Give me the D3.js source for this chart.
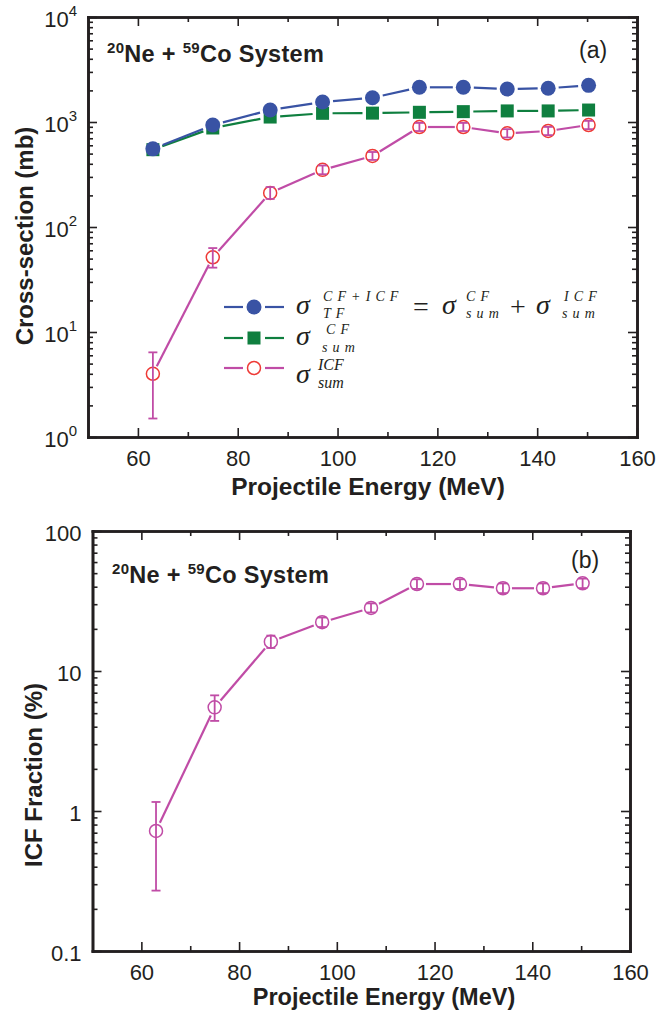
<!DOCTYPE html>
<html>
<head>
<meta charset="utf-8">
<script src="https://cdn.jsdelivr.net/npm/d3@7"></script>
<style>
body { margin: 0; background: #fff; }
svg { display: block; }
</style>
</head>
<body>
<script>
// data
var energy = [63, 75, 86.5, 97, 107, 116.4, 125.2, 134, 142.2, 150.3];
var sigmaTF = [555, 936, 1300, 1550, 1700, 2140, 2140, 2060, 2095, 2235];
var sigmaCF = [545, 877, 1115, 1210, 1215, 1237, 1255, 1275, 1275, 1300];
var sigmaICF = [4.0, 51.5, 211, 350, 475, 896, 896, 780, 821, 936];
var sigmaICFLo = [1.5, 41, 185, 318, 435, 820, 820, 712, 750, 855];
var sigmaICFHi = [6.4, 63, 240, 385, 518, 980, 980, 855, 898, 1025];
var icfFraction = [0.72, 5.5, 16.2, 22.3, 28.2, 41.8, 41.8, 39.0, 39.0, 42.3];
var icfFractionLo = [0.27, 4.4, 14.6, 20.6, 26.2, 38.6, 38.6, 36.0, 36.0, 39.1];
var icfFractionHi = [1.16, 6.7, 17.9, 24.1, 30.4, 45.2, 45.2, 42.2, 42.2, 45.7];

var xTicks = [60, 80, 100, 120, 140, 160];
var yTicksA = [1, 10, 100, 1000, 10000];
var yTicksB = [0.1, 1, 10, 100];
var yLabelsB = ["0.1", "1", "10", "100"];

var ink = "#231f20";
var blue = "#3953a4";
var green = "#0f7f3f";
var magenta = "#c04ca6";
var red = "#ee3a36";
var sans = "'Liberation Sans', Arial, Helvetica, sans-serif";
var serif = "'Liberation Serif', 'Times New Roman', serif";

var svg = d3.select("body").append("svg")
    .attr("width", 658)
    .attr("height", 1018);

svg.append("rect").attr("width", 658).attr("height", 1018).attr("fill", "#fff");

// panel scales
var xA = d3.scaleLinear().domain([50, 160]).range([88, 637]);
var yA = d3.scaleLog().domain([1, 10000]).range([437, 17]);
var xB = d3.scaleLinear().domain([50, 160]).range([92.5, 630]);
var yB = d3.scaleLog().domain([0.1, 100]).range([951, 531]);

function styleAxis(g) {
    g.select(".domain").attr("stroke", ink).attr("stroke-width", 2.6).attr("stroke-linecap", "square");
    g.selectAll(".tick line").attr("stroke", ink).attr("stroke-width", 1.6);
    g.selectAll(".tick text").attr("fill", ink).attr("font-family", sans).attr("font-size", 22);
}

function frame(g, x, y, yLabel) {
    var x0 = x.range()[0], x1 = x.range()[1];
    var y0 = y.range()[0], y1 = y.range()[1];
    var xMinor = x.ticks(11).filter(function(v) {
        return xTicks.indexOf(v) < 0 && v > x.domain()[0];
    });
    var yMajor = y === yA ? yTicksA : yTicksB;
    var yMinor = y.ticks().filter(function(v) {
        return yMajor.indexOf(v) < 0;
    });

    // minor ticks, all four sides
    g.append("g").attr("transform", "translate(0," + y0 + ")")
        .call(d3.axisBottom(x).tickValues(xMinor).tickSizeInner(-5).tickSizeOuter(0).tickFormat(""))
        .call(styleAxis);
    g.append("g").attr("transform", "translate(0," + y1 + ")")
        .call(d3.axisTop(x).tickValues(xMinor).tickSizeInner(-5).tickSizeOuter(0).tickFormat(""))
        .call(styleAxis);
    g.append("g").attr("transform", "translate(" + x0 + ",0)")
        .call(d3.axisLeft(y).tickValues(yMinor).tickSizeInner(-5).tickSizeOuter(0).tickFormat(""))
        .call(styleAxis);
    g.append("g").attr("transform", "translate(" + x1 + ",0)")
        .call(d3.axisRight(y).tickValues(yMinor).tickSizeInner(-5).tickSizeOuter(0).tickFormat(""))
        .call(styleAxis);

    // major ticks
    g.append("g").attr("transform", "translate(0," + y0 + ")")
        .call(d3.axisBottom(x).tickValues(xTicks).tickSizeInner(-9).tickSizeOuter(0).tickPadding(13))
        .call(styleAxis);
    g.append("g").attr("transform", "translate(0," + y1 + ")")
        .call(d3.axisTop(x).tickValues(xTicks).tickSizeInner(-9).tickSizeOuter(0).tickFormat(""))
        .call(styleAxis);
    g.append("g").attr("transform", "translate(" + x1 + ",0)")
        .call(d3.axisRight(y).tickValues(yMajor).tickSizeInner(-9).tickSizeOuter(0).tickFormat(""))
        .call(styleAxis);
    var left = g.append("g").attr("transform", "translate(" + x0 + ",0)")
        .call(d3.axisLeft(y).tickValues(yMajor).tickSizeInner(-9).tickSizeOuter(0).tickPadding(11))
        .call(styleAxis);
    left.selectAll(".tick text").attr("dy", "0.44em").each(yLabel);
}

function segments(xs, ys, gap) {
    var out = [];
    for (var i = 0; i < xs.length - 1; i++) {
        var dx = xs[i + 1] - xs[i], dy = ys[i + 1] - ys[i];
        var len = Math.sqrt(dx * dx + dy * dy);
        if (len <= 2 * gap) continue;
        var ux = dx / len, uy = dy / len;
        out.push([xs[i] + ux * gap, ys[i] + uy * gap, xs[i + 1] - ux * gap, ys[i + 1] - uy * gap]);
    }
    return out;
}

function drawLine(g, xs, ys, gap, color) {
    g.append("g").selectAll("line")
        .data(segments(xs, ys, gap))
        .enter().append("line")
        .attr("x1", function(d) { return d[0]; })
        .attr("y1", function(d) { return d[1]; })
        .attr("x2", function(d) { return d[2]; })
        .attr("y2", function(d) { return d[3]; })
        .attr("stroke", color)
        .attr("stroke-width", 2.2);
}

function errorBars(g, xs, lo, hi, y, color) {
    var eb = g.append("g").attr("stroke", color).attr("stroke-width", 1.8).attr("fill", "none");
    xs.forEach(function(xv, i) {
        eb.append("line").attr("x1", xv).attr("x2", xv).attr("y1", y(lo[i])).attr("y2", y(hi[i]));
        eb.append("line").attr("x1", xv - 4.5).attr("x2", xv + 4.5).attr("y1", y(lo[i])).attr("y2", y(lo[i]));
        eb.append("line").attr("x1", xv - 4.5).attr("x2", xv + 4.5).attr("y1", y(hi[i])).attr("y2", y(hi[i]));
    });
}

function systemTitle(g, x, y) {
    var t = g.append("text").attr("x", x).attr("y", y)
        .attr("font-family", sans).attr("font-weight", "bold").attr("font-size", 23.5)
        .attr("letter-spacing", 0.3).attr("fill", ink);
    t.append("tspan").attr("font-size", 15).attr("dy", -9).text("20");
    t.append("tspan").attr("dy", 9).text("Ne + ");
    t.append("tspan").attr("font-size", 15).attr("dy", -9).text("59");
    t.append("tspan").attr("dy", 9).text("Co System");
}

// ---------- panel (a)
var ga = svg.append("g");
frame(ga, xA, yA, function(d) {
    var t = d3.select(this).text(null);
    t.append("tspan").text("10");
    t.append("tspan").attr("dy", -11).attr("font-size", 15).text(Math.round(Math.log10(d)));
});

var pxA = energy.map(function(e) { return xA(e); });

// CF sum
drawLine(ga, pxA, sigmaCF.map(yA), 10, green);
ga.append("g").selectAll("rect")
    .data(sigmaCF)
    .enter().append("rect")
    .attr("x", function(d, i) { return pxA[i] - 6.5; })
    .attr("y", function(d) { return yA(d) - 6.5; })
    .attr("width", 13).attr("height", 13)
    .attr("fill", green);

// total fusion
drawLine(ga, pxA, sigmaTF.map(yA), 10.5, blue);
ga.append("g").selectAll("circle")
    .data(sigmaTF)
    .enter().append("circle")
    .attr("cx", function(d, i) { return pxA[i]; })
    .attr("cy", function(d) { return yA(d); })
    .attr("r", 7.5)
    .attr("fill", blue);

// ICF sum
drawLine(ga, pxA, sigmaICF.map(yA), 8.5, magenta);
ga.append("g").selectAll("circle")
    .data(sigmaICF)
    .enter().append("circle")
    .attr("cx", function(d, i) { return pxA[i]; })
    .attr("cy", function(d) { return yA(d); })
    .attr("r", 6.5)
    .attr("fill", "#fff")
    .attr("stroke", red)
    .attr("stroke-width", 1.5);
errorBars(ga, pxA, sigmaICFLo, sigmaICFHi, yA, magenta);

// legend
var lg = ga.append("g").attr("font-family", serif).attr("font-style", "italic").attr("fill", ink);
var rows = [307, 338, 368];
[blue, green, magenta].forEach(function(c, i) {
    lg.append("line").attr("x1", 224).attr("x2", 243).attr("y1", rows[i]).attr("y2", rows[i]).attr("stroke", c).attr("stroke-width", 2.2);
    lg.append("line").attr("x1", 265).attr("x2", 284).attr("y1", rows[i]).attr("y2", rows[i]).attr("stroke", c).attr("stroke-width", 2.2);
});
lg.append("circle").attr("cx", 254).attr("cy", rows[0]).attr("r", 7.5).attr("fill", blue);
lg.append("rect").attr("x", 247.5).attr("y", rows[1] - 6.5).attr("width", 13).attr("height", 13).attr("fill", green);
lg.append("circle").attr("cx", 254).attr("cy", rows[2]).attr("r", 6.5).attr("fill", "#fff").attr("stroke", red).attr("stroke-width", 1.5);

function sigma(x, y) {
    lg.append("text").attr("x", x).attr("y", y).attr("font-size", 28).text("σ");
}
function small(x, y, s, size, spacing) {
    lg.append("text").attr("x", x).attr("y", y).attr("font-size", size || 14)
        .attr("letter-spacing", spacing === undefined ? 0.8 : spacing).text(s);
}
sigma(296, 314);
small(323, 301, "C F + I C F");
small(323, 318, "T F");
lg.append("text").attr("x", 413).attr("y", 316).attr("font-size", 28).attr("font-style", "normal").text("=");
sigma(442, 314);
small(466, 301, "C F");
small(466, 318, "s u m");
lg.append("text").attr("x", 510).attr("y", 316).attr("font-size", 28).attr("font-style", "normal").text("+");
sigma(536, 314);
small(564, 301, "I C F");
small(562, 318, "s u m");
sigma(296, 345);
small(326, 334, "C F");
small(322, 352, "s u m");
sigma(296, 383);
small(318, 370, "ICF", 16, 0);
small(318, 388, "sum", 16, 0);

// titles
systemTitle(ga, 107, 62);
ga.append("text").attr("x", 579).attr("y", 58).attr("font-family", sans).attr("font-size", 23).attr("fill", ink).text("(a)");

ga.append("text").attr("x", 368).attr("y", 495).attr("text-anchor", "middle")
    .attr("font-family", sans).attr("font-weight", "bold").attr("font-size", 24.5).attr("fill", ink)
    .text("Projectile Energy (MeV)");
ga.append("text").attr("transform", "translate(33,236) rotate(-90)").attr("text-anchor", "middle")
    .attr("font-family", sans).attr("font-weight", "bold").attr("font-size", 24).attr("fill", ink)
    .text("Cross-section (mb)");

// ---------- panel (b)
var gb = svg.append("g");
frame(gb, xB, yB, function(d, i) {
    d3.select(this).text(yLabelsB[i]);
});

var pxB = energy.map(function(e) { return xB(e); });
drawLine(gb, pxB, icfFraction.map(yB), 9, magenta);
gb.append("g").selectAll("circle")
    .data(icfFraction)
    .enter().append("circle")
    .attr("cx", function(d, i) { return pxB[i]; })
    .attr("cy", function(d) { return yB(d); })
    .attr("r", 6.5)
    .attr("fill", "#fff")
    .attr("stroke", magenta)
    .attr("stroke-width", 1.5);
errorBars(gb, pxB, icfFractionLo, icfFractionHi, yB, magenta);

systemTitle(gb, 112, 583);
gb.append("text").attr("x", 571).attr("y", 568).attr("font-family", sans).attr("font-size", 23).attr("fill", ink).text("(b)");

gb.append("text").attr("x", 384).attr("y", 1005).attr("text-anchor", "middle")
    .attr("font-family", sans).attr("font-weight", "bold").attr("font-size", 23.5).attr("fill", ink)
    .text("Projectile Energy (MeV)");
gb.append("text").attr("transform", "translate(42,775) rotate(-90)").attr("text-anchor", "middle")
    .attr("font-family", sans).attr("font-weight", "bold").attr("font-size", 24).attr("fill", ink)
    .text("ICF Fraction (%)");
</script>
</body>
</html>
